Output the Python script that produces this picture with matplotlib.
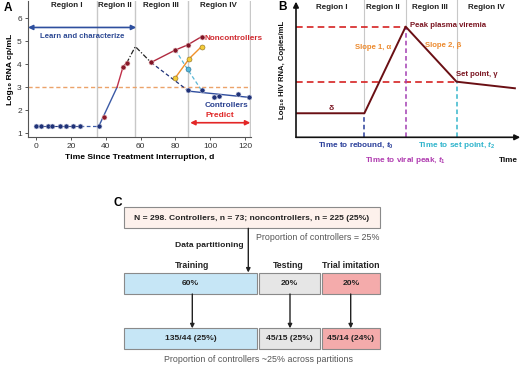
import numpy as np
import matplotlib
matplotlib.use("Agg")
import matplotlib.pyplot as plt
from matplotlib.patches import Rectangle

plt.rcParams['font.family'] = ['Liberation Sans', 'DejaVu Sans']
plt.rcParams['mathtext.fontset'] = 'custom'
plt.rcParams['mathtext.it'] = 'Liberation Sans:italic:bold'
plt.rcParams['mathtext.rm'] = 'Liberation Sans:bold'

# ---------------- Panel A data ----------------
region_bounds_a = [35, 57, 87, 123]
region_labels = ["Region I", "Region II", "Region III", "Region IV"]
region_label_x_a = [17.6, 45.3, 71.8, 104.5]

base_days = [0, 3, 7, 9, 14, 17, 21, 25, 36]
base_vals = [1.3, 1.3, 1.3, 1.3, 1.3, 1.3, 1.3, 1.3, 1.3]
rise_days = [36, 46.5, 50]
rise_vals = [1.3, 3.0, 3.9]
rebound_days = [39, 50, 52]
rebound_vals = [1.72, 3.9, 4.05]
peak_days = [52, 57, 66]
peak_vals = [4.05, 4.77, 4.08]
decline_days = [66, 87]
decline_vals = [4.08, 2.87]
nonctrl_days = [66, 80, 87, 95]
nonctrl_vals = [4.08, 4.62, 4.84, 5.2]
orange_days = [80, 88, 95]
orange_vals = [3.42, 4.25, 4.77]
cyan_days = [80, 87, 95]
cyan_vals = [4.62, 3.78, 2.87]
ctrl_days = [87, 95, 102, 105, 116, 122]
ctrl_vals = [2.87, 2.87, 2.59, 2.6, 2.71, 2.57]
threshold = 3.0

# ---------------- Panel B data ----------------
b_times = [0, 30.8, 49.4, 72.3, 98.6]
b_levels = [17.9, 17.9, 82.4, 41.4, 36.5]

# ---------------- Panel C data ----------------
top_text = "N = 298. Controllers, n = 73; noncontrollers, n = 225 (25%)"
part_names = ["Training", "Testing", "Trial imitation"]
part_pcts = ["60%", "20%", "20%"]
part_counts = ["135/44 (25%)", "45/15 (25%)", "45/14 (24%)"]
part_colors = ["#c6e6f6", "#e6e6e6", "#f4abab"]

W, H = 520, 365
fig = plt.figure(figsize=(W / 100, H / 100), dpi=100)

navy = "#1f3278"
dred = "#9b1b30"
fs = 5.6
fc = 6.1

# ================= Panel A =================
axA = fig.add_axes([28 / W, 1 - 137 / H, 223 / W, 136 / H])
axA.set_xlim(-4.6, 123.4)
axA.set_ylim(0.84, 6.75)
for s in ["top", "right"]:
    axA.spines[s].set_visible(False)
for s in ["left", "bottom"]:
    axA.spines[s].set_color("#555555")
    axA.spines[s].set_linewidth(0.8)
for xb in region_bounds_a:
    axA.axvline(xb, color="#c8c8c8", lw=1.0, zorder=0)
for lab, xl in zip(region_labels, region_label_x_a):
    axA.text(xl, 6.55, lab, ha="center", va="center", fontsize=fs + 0.2, fontweight="bold", color="#222222")
axA.axhline(threshold, color="#eba36a", lw=1.0, ls=(0, (3, 2)), zorder=1)

axA.plot(base_days[:-1], base_vals[:-1], color=navy, lw=0.8, zorder=2)
axA.plot(base_days[-2:], base_vals[-2:], color="#3b5aa6", lw=0.9, ls=(0, (3, 2)), zorder=2)
axA.plot(rise_days[:2], rise_vals[:2], color="#3b5aa6", lw=1.0, zorder=2)
axA.plot(rise_days[1:], rise_vals[1:], color="#c0304a", lw=1.0, zorder=2)
axA.plot(rebound_days[1:], rebound_vals[1:], color=dred, lw=1.0, zorder=2)
axA.plot(peak_days, peak_vals, color="#222222", lw=0.9, ls=(0, (4, 1.5, 1, 1.5)), zorder=2)
axA.plot(decline_days, decline_vals, color=navy, lw=0.9, ls=(0, (3, 2)), zorder=2)
axA.plot(nonctrl_days, nonctrl_vals, color="#b02a40", lw=1.0, marker="o", ms=3.6,
         mfc="#7e1426", mec="#e8c0c0", mew=0.4, zorder=3)
axA.plot(cyan_days, cyan_vals, color="#5bb7d6", lw=0.9, ls=(0, (3, 2)), zorder=2)
axA.plot([cyan_days[1]], [cyan_vals[1]], marker="o", ms=3.6, mfc="#54b7d8", mec="#2a6f90", mew=0.4, ls="none", zorder=4)
axA.plot(orange_days, orange_vals, color="#f0902a", lw=1.0, marker="o", ms=3.6,
         mfc="#f4cc3a", mec="#8a6a20", mew=0.4, zorder=3)
coef = np.polyfit(ctrl_days, ctrl_vals, 1)
fx = np.array([ctrl_days[0], ctrl_days[-1]])
axA.plot(fx, np.polyval(coef, fx), color="#2f4d9e", lw=1.0, zorder=2)
axA.plot(ctrl_days, ctrl_vals, ls="none", marker="o", ms=3.6, mfc=navy, mec="#c8cce0", mew=0.4, zorder=3)
axA.plot(base_days, base_vals, ls="none", marker="o", ms=3.6, mfc=navy, mec="#c8cce0", mew=0.4, zorder=3)
axA.plot(rebound_days, rebound_vals, ls="none", marker="o", ms=3.6, mfc="#8a1a2a", mec="#e8c0c0", mew=0.4, zorder=3)

axA.annotate("", xy=(-4.6, 5.6), xytext=(57.5, 5.6),
             arrowprops=dict(arrowstyle="<|-|>", color="#2e4f9e", lw=1.2, mutation_scale=7, shrinkA=0, shrinkB=0),
             annotation_clip=False)
axA.text(26.4, 5.2, "Learn and characterize", ha="center", va="center", fontsize=fs, fontweight="bold", color="#2e4a94")
axA.annotate("", xy=(88.5, 1.46), xytext=(123, 1.46),
             arrowprops=dict(arrowstyle="<|-|>", color="#e32626", lw=1.2, mutation_scale=7, shrinkA=0, shrinkB=0),
             annotation_clip=False)
axA.text(105.5, 1.76, "Predict", ha="center", va="center", fontsize=fs + 0.4, fontweight="bold", color="#e02828")
axA.text(96.5, 5.1, "Noncontrollers", ha="left", va="center", fontsize=fs + 0.3, fontweight="bold", color="#d02a30")
axA.text(109.5, 2.23, "Controllers", ha="center", va="center", fontsize=fs + 0.3, fontweight="bold", color="#2a4190")

axA.set_xticks([0, 20, 40, 60, 80, 100, 120])
axA.set_yticks([1, 2, 3, 4, 5, 6])
axA.tick_params(labelsize=fs + 0.4, length=2.5, width=0.7, color="#555555", pad=2, labelcolor="#333333")
axA.set_xlabel("Time Since Treatment Interruption, d", fontsize=fs + 0.5, fontweight="bold", labelpad=3)
axA.set_ylabel("Log\u2081\u2080 RNA cp/mL", fontsize=fs + 0.5, fontweight="bold", labelpad=2)
fig.text(4 / W, 1 - 8 / H, "A", fontsize=8.5, fontweight="bold", va="center", ha="left")

# ================= Panel B =================
axB = fig.add_axes([296 / W, 1 - 137.3 / H, 222 / W, 134.3 / H])
axB.set_xlim(0, 100)
axB.set_ylim(0, 100)
axB.axis("off")
for xb, yb in zip(b_times[1:4], b_levels[1:4]):
    axB.plot([xb, xb], [yb, 102], color="#c8c8c8", lw=0.8, zorder=0, clip_on=False)
region_label_x_b = [16.0, 39.0, 60.5, 86.0]
for lab, xl in zip(region_labels, region_label_x_b):
    axB.text(xl, 97.0, lab, ha="center", va="center", fontsize=fs + 0.2, fontweight="bold", color="#222222")
axB.plot([0, b_times[2]], [b_levels[2]] * 2, color="#d62222", lw=1.2, ls=(0, (4, 2.5)), zorder=1)
axB.plot([0, b_times[3]], [b_levels[3]] * 2, color="#d62222", lw=1.2, ls=(0, (4, 2.5)), zorder=1)
vcols = ["#2a3f9a", "#a33fb3", "#37b6cc"]
for xb, yb, c in zip(b_times[1:4], b_levels[1:4], vcols):
    axB.plot([xb, xb], [0, yb], color=c, lw=1.1, ls=(0, (3, 2)), zorder=1)
axB.plot(b_times, b_levels, color="#6a0f14", lw=1.4, zorder=3)
axB.annotate("", xy=(101, 0), xytext=(0, 0),
             arrowprops=dict(arrowstyle="-|>", color="#111111", lw=1.2, mutation_scale=8, shrinkA=0, shrinkB=0),
             annotation_clip=False)
axB.annotate("", xy=(0, 101), xytext=(0, 0),
             arrowprops=dict(arrowstyle="-|>", color="#111111", lw=1.2, mutation_scale=8, shrinkA=0, shrinkB=0),
             annotation_clip=False)
axB.text(51.4, 83.6, "Peak plasma viremia", ha="left", va="center", fontsize=fs, fontweight="bold", color="#7a1420")
axB.text(34.7, 66.5, "Slope 1, \u03b1", ha="center", va="center", fontsize=fs, fontweight="bold", color="#ec8a2e")
axB.text(66.2, 68.7, "Slope 2, \u03b2", ha="center", va="center", fontsize=fs, fontweight="bold", color="#ec8a2e")
axB.text(72.0, 47.1, "Set point, \u03b3", ha="left", va="center", fontsize=fs, fontweight="bold", color="#7a1420")
axB.text(16.1, 21.8, "\u03b4", ha="center", va="center", fontsize=fs + 0.5, fontweight="bold", color="#7a1420")
axB.text(27.0, -6.3, "Time to rebound, $t_0$", ha="center", va="center", fontsize=fs + 0.3, fontweight="bold", color="#2a3f9a")
axB.text(72.3, -6.3, "Time to set point, $t_2$", ha="center", va="center", fontsize=fs + 0.3, fontweight="bold", color="#2fb4cc")
axB.text(49.5, -17.6, "Time to viral peak, $t_1$", ha="center", va="center", fontsize=fs + 0.3, fontweight="bold", color="#b03cb0")
axB.text(95.5, -17.6, "Time", ha="center", va="center", fontsize=fs + 0.3, fontweight="bold", color="#111111")
axB.text(-6.0, 50, "Log\u2081\u2080 HIV RNA, Copies/mL", rotation=90, ha="center", va="center",
         fontsize=fs, fontweight="bold", color="#111111")
fig.text(278 / W, 1 - 7 / H, "B", fontsize=8.5, fontweight="bold", va="center", ha="left")

# ================= Panel C =================
axC = fig.add_axes([0, 0, 1, 1], zorder=-1)
axC.set_xlim(0, W)
axC.set_ylim(H, 0)
axC.axis("off")
axC.text(113, 203, "C", fontsize=8.5, fontweight="bold", va="center", ha="left")
axC.add_patch(Rectangle((124.3, 207.3), 255.7, 21, facecolor="#fdf1ec", edgecolor="#8a8a8a", lw=0.8))
axC.text(252, 218, top_text, ha="center", va="center", fontsize=fc, fontweight="bold", color="#222222")
axC.annotate("", xy=(248.3, 272.5), xytext=(248.3, 228.3),
             arrowprops=dict(arrowstyle="-|>", color="#222222", lw=1.0, mutation_scale=6, shrinkA=0, shrinkB=0))
axC.text(317.5, 237.5, "Proportion of controllers = 25%", ha="center", va="center", fontsize=fc + 0.3, color="#555555")
axC.text(209.3, 245.7, "Data partitioning", ha="center", va="center", fontsize=fc, fontweight="bold", color="#222222")

box_x = [124.3, 259.3, 321.7]
box_w = [132.4, 60.7, 58.3]
arrow_x = [192.3, 290.0, 350.7]
label_x = [192.3, 288.7, 350.7]
for i in range(3):
    axC.text(label_x[i], 266, part_names[i], ha="center", va="center", fontsize=fc + 0.2, fontweight="bold", color="#222222")
    axC.add_patch(Rectangle((box_x[i], 273.3), box_w[i], 20.7, facecolor=part_colors[i], edgecolor="#8a8a8a", lw=0.8))
    axC.text(box_x[i] + box_w[i] / 2, 283.7, part_pcts[i], ha="center", va="center", fontsize=fc, fontweight="bold", color="#222222")
    axC.annotate("", xy=(arrow_x[i], 328.3), xytext=(arrow_x[i], 294),
                 arrowprops=dict(arrowstyle="-|>", color="#222222", lw=1.0, mutation_scale=6, shrinkA=0, shrinkB=0))
    axC.add_patch(Rectangle((box_x[i], 328.3), box_w[i], 20.7, facecolor=part_colors[i], edgecolor="#8a8a8a", lw=0.8))
    axC.text(box_x[i] + box_w[i] / 2, 338.7, part_counts[i], ha="center", va="center", fontsize=fc, fontweight="bold", color="#222222")
axC.text(259, 359.3, "Proportion of controllers ~25% across partitions", ha="center", va="center", fontsize=fc + 0.3, color="#555555")

fig.savefig("out.png", dpi=100)
